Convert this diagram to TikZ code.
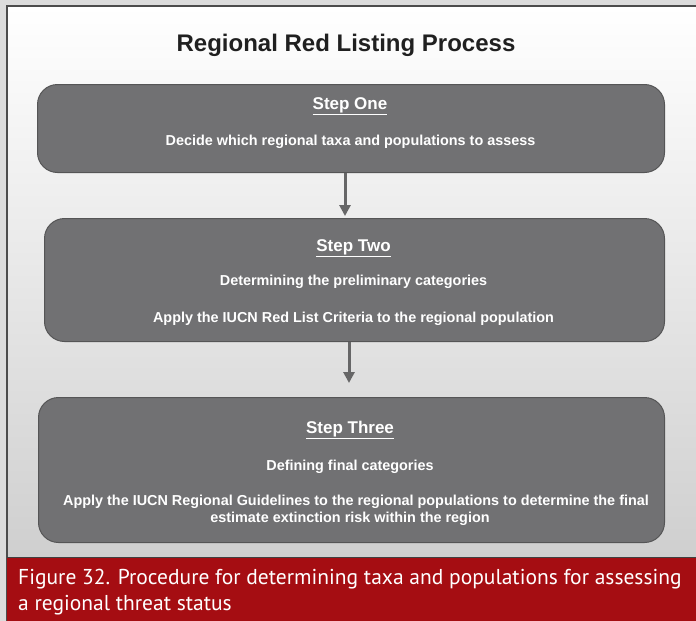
\documentclass[tikz,border=0pt]{standalone}
\usepackage{fontspec}
\setmainfont{Liberation Sans}
\newfontfamily\capfont{PT Sans}
\usetikzlibrary{arrows.meta}
\definecolor{outerbg}{HTML}{DCDCDC}
\definecolor{panelbot}{HTML}{CFCFCF}
\definecolor{boxfill}{HTML}{717173}
\definecolor{boxline}{HTML}{555556}
\definecolor{arrcol}{HTML}{666667}
\definecolor{capred}{HTML}{A50D12}
\definecolor{titlecol}{HTML}{202020}
\begin{document}
\begin{tikzpicture}[x=1pt,y=-1pt,
  stepbox/.style={draw=boxline, line width=1pt, fill=boxfill, rounded corners=20pt,
    inner sep=0pt, anchor=north west},
  head/.style={text=white, font=\fontsize{17}{20}\selectfont\bfseries, anchor=base, inner sep=0pt},
  body/.style={text=white, font=\fontsize{14.4}{17}\selectfont\bfseries, anchor=base, inner sep=0pt},
  flow/.style={draw=arrcol, line width=3pt, -{Triangle[width=11pt,length=11pt]}},
  captxt/.style={text=white, font=\capfont\fontsize{21.5}{25}\selectfont, anchor=base west, inner sep=0pt}
]
\useasboundingbox (0,0) rectangle (696,621);
\fill[outerbg] (0,0) rectangle (696,621);
\shade[top color=white, bottom color=panelbot] (7,6) rectangle (696,557);
\draw[draw=black!70, line width=1.2pt] (7,621) -- (7,6) -- (696,6);
\fill[capred] (7,557) rectangle (696,621);
\draw[black!75, line width=1pt] (7,557) -- (696,557);

\node[anchor=base, inner sep=0pt, text=titlecol, font=\fontsize{24}{28}\selectfont\bfseries] (title) at (346,51) {Regional Red Listing Process};

\node[stepbox, minimum width=627pt, minimum height=88pt] (box1) at (37,84) {};
\node[stepbox, minimum width=620pt, minimum height=123pt] (box2) at (44,218) {};
\node[stepbox, minimum width=626pt, minimum height=145pt] (box3) at (38,397) {};

\node[head] (h1) at (350,109) {\underline{Step One}};
\node[body] (b1) at (350.5,145) {Decide which regional taxa and populations to assess};

\node[head] (h2) at (353.5,251) {\underline{Step Two}};
\node[body] (b2a) at (353.5,285) {Determining the preliminary categories};
\node[body] (b2b) at (353.5,322) {Apply the IUCN Red List Criteria to the regional population};

\node[head] (h3) at (350,433) {\underline{Step Three}};
\node[body] (b3a) at (350,470) {Defining final categories};
\node[body] (b3b) at (356,505) {Apply the IUCN Regional Guidelines to the regional populations to determine the final};
\node[body] (b3c) at (350,522.5) {estimate extinction risk within the region};

\coordinate (a1) at (345,0);
\coordinate (a2) at (349,0);
\draw[flow] (box1.south -| a1) -- ([yshift=2pt]box2.north -| a1);
\draw[flow] (box2.south -| a2) -- ([yshift=14pt]box3.north -| a2);

\node[captxt] (cap1) at (18,584) {Figure 32. Procedure for determining taxa and populations for assessing};
\node[captxt] (cap2) at (18,610) {a regional threat status};
\end{tikzpicture}
\end{document}
